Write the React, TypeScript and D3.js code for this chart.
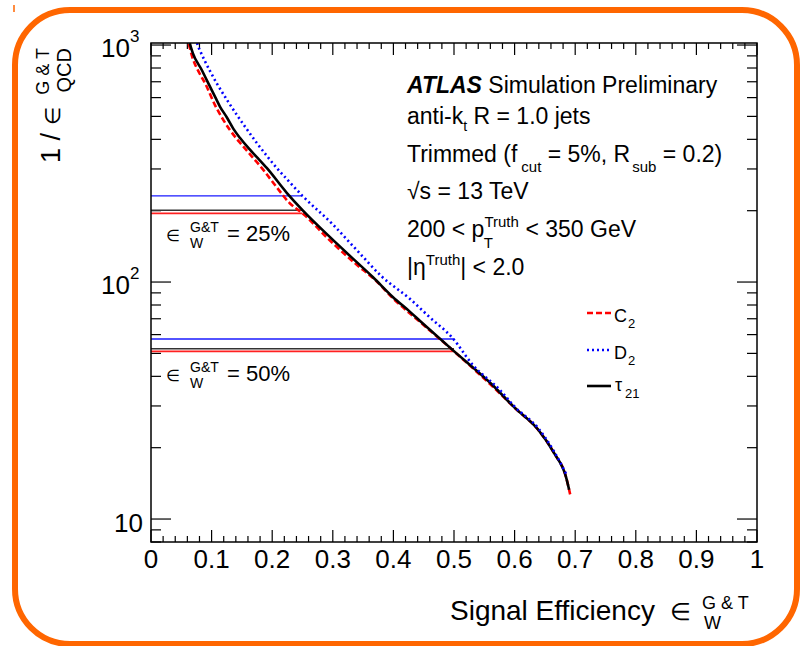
import React from 'react';
import * as d3 from 'd3';

// ---------- data ----------
const xTickValues = [0, 0.1, 0.2, 0.3, 0.4, 0.5, 0.6, 0.7, 0.8, 0.9, 1];
const xTickLabels = ['0', '0.1', '0.2', '0.3', '0.4', '0.5', '0.6', '0.7', '0.8', '0.9', '1'];
const yMajorTicks = [10, 100, 1000];
const yMajorExp = ['1', '2', '3'];
const yMinorTicks = [8, 9, 20, 30, 40, 50, 60, 70, 80, 90, 200, 300, 400, 500, 600, 700, 800, 900];

const effC2 = [0.058, 0.062, 0.067, 0.08, 0.089, 0.1056, 0.12, 0.13, 0.145, 0.16, 0.185, 0.207, 0.229, 0.25, 0.295, 0.34, 0.37, 0.4, 0.445, 0.5, 0.56, 0.6, 0.64, 0.665, 0.685, 0.692];
const rejC2 = [1100, 1019, 910, 760, 692, 558, 480, 439, 392, 354, 298, 252, 215, 195, 150, 118, 102, 85, 67.5, 51, 37, 29.5, 23.6, 19, 15, 12.6];

const effD2 = [0.074, 0.077, 0.081, 0.089, 0.097, 0.108, 0.125, 0.141, 0.158, 0.174, 0.191, 0.207, 0.224, 0.25, 0.3, 0.34, 0.38, 0.427, 0.46, 0.498, 0.53, 0.576, 0.6, 0.64, 0.665, 0.685];
const rejD2 = [1070, 1000, 946, 855, 780, 693, 589, 510, 442, 388, 341, 304, 272, 231, 175, 136, 106, 85, 71, 57.9, 45, 35, 29.8, 24, 19.3, 15.5];

const effTau = [0.06, 0.064, 0.069, 0.084, 0.092, 0.106, 0.114, 0.125, 0.136, 0.147, 0.161, 0.175, 0.191, 0.224, 0.25, 0.295, 0.34, 0.366, 0.399, 0.427, 0.444, 0.498, 0.564, 0.6, 0.639, 0.665, 0.685, 0.69];
const rejTau = [1150, 1019, 925, 783, 711, 603, 549, 496, 443, 405, 367, 336, 303, 238, 201, 155, 121, 105, 86.5, 75, 68.5, 51.6, 36.7, 29.5, 23.8, 19, 15, 13.3];

const wpEff = [0.25, 0.5];
const wpLabels = ['25%', '50%'];
const wpRejC2 = [195, 51];
const wpRejD2 = [231, 57.5];
const wpRejTau = [201, 52.3];

const FONT = 'Liberation Sans, Arial, Helvetica, sans-serif';

export default function App() {
  const W = 800, H = 646;
  const left = 151, right = 757, top = 43, bottom = 542;
  const x = d3.scaleLinear().domain([0, 1]).range([left, right]);
  const y = d3.scaleLog().domain([8, 1020]).range([bottom, top]);

  const mk = (e: number[], r: number[]) =>
    d3.line<number>().curve(d3.curveMonotoneX).x((_, i) => x(e[i])).y((_, i) => y(r[i]))(e) || '';

  const xMinor = d3.range(0, 51).map(i => i * 0.02).filter(v => Math.abs(v * 10 - Math.round(v * 10)) > 1e-6);

  const wpLabelBase = [241, 381];

  return (
    <svg width={W} height={H} style={{ position: 'absolute', left: 0, top: 0, background: '#fff' }} fontFamily={FONT}>
      <rect x={0} y={0} width={W} height={H} fill="#fff" />
      <rect x={15} y={10} width={782} height={634} rx={55} ry={55} fill="none" stroke="#ff6600" strokeWidth={6} />
      <line x1={14} y1={5} x2={14} y2={12} stroke="#ff6600" strokeWidth={1.5} />

      <defs>
        <clipPath id="plotclip">
          <rect x={left} y={top} width={right - left} height={bottom - top} />
        </clipPath>
      </defs>

      {/* ticks */}
      <g stroke="#000" strokeWidth={1.2}>
        {xTickValues.map((v, i) => (
          <g key={'xt' + i}>
            <line x1={x(v)} x2={x(v)} y1={bottom} y2={bottom - 12} />
            <line x1={x(v)} x2={x(v)} y1={top} y2={top + 12} />
          </g>
        ))}
        {xMinor.map((v, i) => (
          <g key={'xm' + i}>
            <line x1={x(v)} x2={x(v)} y1={bottom} y2={bottom - 6} />
            <line x1={x(v)} x2={x(v)} y1={top} y2={top + 6} />
          </g>
        ))}
        {yMajorTicks.map((v, i) => (
          <g key={'yt' + i}>
            <line x1={left} x2={left + 20} y1={y(v)} y2={y(v)} />
            <line x1={right} x2={right - 20} y1={y(v)} y2={y(v)} />
          </g>
        ))}
        {yMinorTicks.map((v, i) => (
          <g key={'ym' + i}>
            <line x1={left} x2={left + 10} y1={y(v)} y2={y(v)} />
            <line x1={right} x2={right - 10} y1={y(v)} y2={y(v)} />
          </g>
        ))}
      </g>

      {/* working point lines */}
      {wpEff.map((e, i) => (
        <g key={'wp' + i}>
          <line x1={left} x2={x(e)} y1={y(wpRejD2[i])} y2={y(wpRejD2[i])} stroke="#1a1aff" strokeWidth={1.3} />
          <line x1={left} x2={x(e)} y1={y(wpRejTau[i])} y2={y(wpRejTau[i])} stroke="#333" strokeWidth={1.5} />
          <line x1={left} x2={x(e)} y1={y(wpRejC2[i])} y2={y(wpRejC2[i])} stroke="#ff2020" strokeWidth={1.8} />
        </g>
      ))}

      {/* curves */}
      <g clipPath="url(#plotclip)" fill="none">
        <path d={mk(effC2, rejC2)} stroke="#ff0000" strokeWidth={2.6} strokeDasharray="6,3" />
        <path d={mk(effTau, rejTau)} stroke="#000" strokeWidth={2.6} />
        <path d={mk(effD2, rejD2)} stroke="#0000ff" strokeWidth={2.6} strokeDasharray="2,3" />
      </g>

      {/* frame */}
      <rect x={left} y={top} width={right - left} height={bottom - top} fill="none" stroke="#000" strokeWidth={1.5} />

      {/* x tick labels */}
      {xTickValues.map((v, i) => (
        <text key={'xl' + i} x={x(v)} y={568} fontSize={26} textAnchor="middle">{xTickLabels[i]}</text>
      ))}

      {/* y tick labels */}
      {yMajorTicks.map((v, i) =>
        i === 0 ? (
          <text key={'yl' + i} x={143} y={y(v) + 13} fontSize={26} textAnchor="end">10</text>
        ) : (
          <g key={'yl' + i}>
            <text x={130} y={y(v) + 12} fontSize={26} textAnchor="end">10</text>
            <text x={130} y={y(v) - 3} fontSize={17} textAnchor="start">{yMajorExp[i]}</text>
          </g>
        )
      )}

      {/* y axis title */}
      <g transform="translate(60,163) rotate(-90)">
        <text x={0} y={0} fontSize={27}>
          <tspan>1 / </tspan>
          <tspan fontSize={21}>∈</tspan>
        </text>
        <text x={115} y={-11} fontSize={18} textAnchor="end">G &amp; T</text>
        <text x={115} y={11} fontSize={20} textAnchor="end">QCD</text>
      </g>

      {/* x axis title */}
      <text x={450} y={620} fontSize={28}>Signal Efficiency</text>
      <text x={670} y={620} fontSize={24}>∈</text>
      <text x={702} y={609} fontSize={18}>G &amp; T</text>
      <text x={704} y={629} fontSize={18}>W</text>

      {/* WP labels */}
      {wpLabels.map((l, i) => (
        <g key={'wpl' + i}>
          <text x={166} y={wpLabelBase[i]} fontSize={16}>∈</text>
          <text x={190} y={wpLabelBase[i] - 9} fontSize={14}>G&amp;T</text>
          <text x={190} y={wpLabelBase[i] + 7} fontSize={14}>W</text>
          <text x={227} y={wpLabelBase[i]} fontSize={22}>= {l}</text>
        </g>
      ))}

      {/* text block */}
      <g fontSize={23}>
        <text x={407} y={93}>
          <tspan fontWeight="bold" fontStyle="italic">ATLAS</tspan>
          <tspan> Simulation Preliminary</tspan>
        </text>
        <text x={407} y={124}>
          <tspan>anti-k</tspan>
          <tspan fontSize={14} dy={7}>t</tspan>
          <tspan dy={-7}> R = 1.0 jets</tspan>
        </text>
        <text x={407} y={162}>
          <tspan>Trimmed (f</tspan>
          <tspan fontSize={15} dy={10} dx={4}>cut</tspan>
          <tspan dy={-10}> = 5%, R</tspan>
          <tspan fontSize={15} dy={10} dx={2}>sub</tspan>
          <tspan dy={-10}> = 0.2)</tspan>
        </text>
        <text x={407} y={199}>√s = 13 TeV</text>
        <text x={407} y={237}>
          <tspan>200 &lt; p</tspan>
          <tspan fontSize={15} dy={-10}>Truth</tspan>
          <tspan fontSize={15} dy={21} dx={-35}>T</tspan>
          <tspan dy={-11} dx={26}> &lt; 350 GeV</tspan>
        </text>
        <text x={407} y={275}>
          <tspan>|η</tspan>
          <tspan fontSize={15} dy={-10}>Truth</tspan>
          <tspan dy={10}>| &lt; 2.0</tspan>
        </text>
      </g>

      {/* legend */}
      <g>
        <line x1={587} x2={611} y1={313} y2={313} stroke="#ff0000" strokeWidth={2.6} strokeDasharray="6,3" />
        <text x={614} y={322} fontSize={18}>C</text>
        <text x={628} y={328} fontSize={13}>2</text>
        <line x1={587} x2={609} y1={350} y2={350} stroke="#0000ff" strokeWidth={2.6} strokeDasharray="2,3" />
        <text x={614} y={359} fontSize={18}>D</text>
        <text x={628} y={365} fontSize={13}>2</text>
        <line x1={587} x2={611} y1={386} y2={386} stroke="#000" strokeWidth={2.6} />
        <text x={615} y={391} fontSize={18}>τ</text>
        <text x={625} y={398} fontSize={13}>21</text>
      </g>
    </svg>
  );
}
